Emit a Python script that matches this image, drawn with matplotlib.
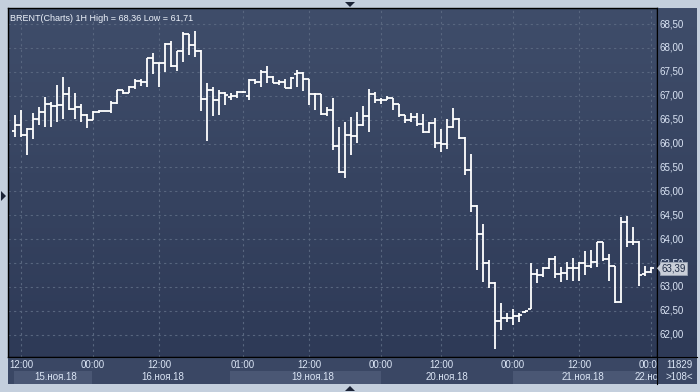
import numpy as np
import matplotlib
matplotlib.use("Agg")
import matplotlib.pyplot as plt
from matplotlib.patches import Rectangle, Polygon

# BRENT hourly bars, 15.11.18 12:00 .. 22.11.18 00:00
opens = [66.26, 66.39, 66.18, 66.30, 66.51, 66.65, 66.82, 66.78, 66.81, 67.04,
         66.72, 66.77, 66.60, 66.50, 66.65, 66.68, 66.68, 66.84, 67.12, 67.05,
         67.19, 67.31, 67.29, 67.78, 67.68, 67.68, 68.08, 67.62, 67.94, 68.30,
         68.07, 67.93, 66.93, 67.13, 66.90, 67.06, 66.97, 67.00, 67.08, 66.99,
         67.32, 67.29, 67.50, 67.40, 67.27, 67.29, 67.17, 67.45, 67.48, 67.35,
         67.04, 67.03, 66.62, 66.70, 65.95, 65.40, 66.18, 66.16, 66.39, 66.58,
         67.03, 66.90, 66.91, 66.95, 66.82, 66.60, 66.50, 66.55, 66.40, 66.25,
         66.42, 66.02, 66.00, 66.34, 66.51, 66.12, 65.45, 64.70, 64.11, 63.51,
         63.09, 62.29, 62.36, 62.35, 62.40, 62.47, 62.53, 63.26, 63.24, 63.40,
         63.58, 63.28, 63.30, 63.39, 63.39, 63.51, 63.44, 63.53, 63.93, 63.58,
         63.44, 62.69, 64.36, 63.95, 63.95, 63.27, 63.32]
highs = [66.60, 66.70, 66.33, 66.63, 66.77, 66.98, 66.87, 67.22, 67.39, 67.19,
         67.05, 66.82, 66.61, 66.68, 66.70, 66.69, 66.88, 67.12, 67.13, 67.20,
         67.34, 67.36, 67.78, 67.89, 67.68, 68.10, 68.14, 67.94, 68.33, 68.30,
         68.36, 67.96, 67.26, 67.19, 67.12, 67.08, 67.05, 67.09, 67.09, 67.34,
         67.35, 67.54, 67.62, 67.42, 67.33, 67.34, 67.40, 67.54, 67.49, 67.36,
         67.05, 67.04, 66.76, 66.95, 66.35, 66.46, 66.56, 66.65, 66.79, 67.15,
         67.08, 66.96, 66.99, 66.95, 66.82, 66.60, 66.63, 66.63, 66.61, 66.46,
         66.54, 66.30, 66.51, 66.74, 66.53, 66.14, 65.78, 64.72, 64.31, 63.56,
         63.11, 62.67, 62.46, 62.53, 62.46, 62.50, 63.49, 63.37, 63.42, 63.60,
         63.65, 63.42, 63.53, 63.60, 63.53, 63.75, 63.77, 63.93, 63.93, 63.69,
         63.44, 64.47, 64.49, 64.26, 63.97, 63.44, 63.42]
lows = [66.14, 66.13, 65.75, 66.09, 66.39, 66.35, 66.35, 66.46, 66.52, 66.70,
        66.51, 66.46, 66.33, 66.49, 66.63, 66.67, 66.63, 66.83, 67.03, 67.05,
        67.14, 67.20, 67.19, 67.45, 67.19, 67.50, 67.61, 67.52, 67.71, 67.85,
        67.82, 66.67, 66.05, 66.58, 66.60, 66.81, 66.91, 66.96, 67.05, 66.90,
        67.24, 67.18, 67.27, 67.26, 67.22, 67.16, 67.15, 67.19, 67.10, 66.81,
        66.70, 66.60, 66.58, 65.86, 65.38, 65.27, 65.76, 66.02, 66.36, 66.25,
        66.84, 66.83, 66.90, 66.70, 66.56, 66.42, 66.45, 66.37, 66.23, 66.23,
        65.90, 65.83, 65.88, 66.32, 66.09, 65.34, 64.57, 63.35, 63.11, 62.97,
        61.71, 62.10, 62.26, 62.20, 62.27, 62.46, 62.53, 63.09, 63.21, 63.38,
        63.18, 63.11, 63.14, 63.13, 63.13, 63.25, 63.39, 63.42, 63.55, 63.13,
        62.66, 62.66, 63.84, 63.88, 63.02, 63.23, 63.30]
closes = [66.39, 66.18, 66.30, 66.51, 66.65, 66.82, 66.78, 66.81, 67.04, 66.72,
          66.77, 66.60, 66.50, 66.65, 66.68, 66.68, 66.84, 67.12, 67.05, 67.19,
          67.31, 67.29, 67.78, 67.68, 67.68, 68.08, 67.62, 67.94, 68.30, 68.07,
          67.93, 66.93, 67.13, 66.90, 67.06, 67.02, 67.00, 67.08, 67.07, 67.32,
          67.29, 67.50, 67.40, 67.27, 67.29, 67.17, 67.38, 67.48, 67.35, 67.04,
          67.03, 66.62, 66.70, 65.95, 65.40, 66.18, 66.16, 66.39, 66.58, 67.03,
          66.90, 66.91, 66.95, 66.82, 66.60, 66.50, 66.55, 66.40, 66.25, 66.42,
          66.02, 66.00, 66.34, 66.51, 66.12, 65.45, 64.70, 64.11, 63.51, 63.09,
          62.29, 62.36, 62.35, 62.40, 62.42, 62.49, 63.26, 63.24, 63.40, 63.58,
          63.28, 63.30, 63.39, 63.39, 63.51, 63.44, 63.53, 63.93, 63.58, 63.44,
          62.68, 64.36, 63.95, 63.95, 63.25, 63.32, 63.39]

time_pos = [1, 13, 24, 38, 49, 61, 71, 83, 94, 106]
time_labels = ["12:00", "00:00", "12:00", "01:00", "12:00", "00:00", "12:00", "00:00", "12:00", "00:00"]
date_pos = [6.7, 24.7, 49.7, 72.0, 94.7]
date_labels = ["15.ноя.18", "16.ноя.18", "19.ноя.18", "20.ноя.18", "21.ноя.18"]
date_boxes = [(-0.2, 12.8), (35.8, 61.0), (83.0, 105.8)]
price_ticks = [62.0, 62.5, 63.0, 63.5, 64.0, 64.5, 65.0, 65.5, 66.0, 66.5, 67.0, 67.5, 68.0, 68.5]
last_price = 63.39
title = "BRENT(Charts) 1H High = 68,36 Low = 61,71"

W, H = 700, 392
XLIM = (-1.17, 107.0)
YLIM = (61.534, 68.835)
TXT = "#dbe5f5"
plt.rcParams["font.family"] = ["Liberation Sans", "DejaVu Sans"]

fig = plt.figure(figsize=(W / 100, H / 100), dpi=100, facecolor="#c4cfdd")


def px_axes(x0, y0, x1, y1):
    a = fig.add_axes([x0 / W, 1 - y1 / H, (x1 - x0) / W, (y1 - y0) / H])
    a.set_xticks([])
    a.set_yticks([])
    return a


def gradient(a, top, bottom):
    c = np.linspace(0, 1, 256)[:, None]
    top = np.array(matplotlib.colors.to_rgb(top))
    bottom = np.array(matplotlib.colors.to_rgb(bottom))
    img = top[None, None, :] * (1 - c[:, :, None]) + bottom[None, None, :] * c[:, :, None]
    a.imshow(img, extent=[0, 1, 0, 1], transform=a.transAxes, aspect="auto", zorder=0)


# main chart
ax = px_axes(8, 8, 657, 357)
gradient(ax, "#3f4d6a", "#2e3a57")
ax.set_xlim(*XLIM)
ax.set_ylim(*YLIM)
grid_kw = dict(colors="#58667f", linestyles=(0, (2, 3)), linewidth=0.8, zorder=1)
ax.hlines(price_ticks, XLIM[0], XLIM[1], **grid_kw)
ax.vlines(time_pos, YLIM[0], YLIM[1], **grid_kw)

x = np.arange(len(opens))
bar_kw = dict(colors="white", linewidth=1.3, zorder=3)
ax.vlines(x, lows, highs, **bar_kw)
ax.hlines(opens, x - 0.5, x, **bar_kw)
ax.hlines(closes, x, x + 0.5, **bar_kw)
for s in ax.spines.values():
    s.set_color("black")
    s.set_linewidth(1.0)
ax.text(0.003, 0.983, title, transform=ax.transAxes, ha="left", va="top",
        color="#eef3fb", fontsize=6.5, zorder=5)

# price scale
ax_p = px_axes(657, 8, 697, 357)
gradient(ax_p, "#3f4d6a", "#2e3a57")
ax_p.set_xlim(0, 1)
ax_p.set_ylim(*YLIM)
for p in price_ticks:
    ax_p.text(0.07, p, f"{p:.2f}".replace(".", ","), ha="left", va="center",
              color=TXT, fontsize=7)
ax_p.text(0.1, last_price, f"{last_price:.2f}".replace(".", ","), ha="left", va="center",
          color="#1e2a44", fontsize=7, zorder=5,
          bbox=dict(boxstyle="square,pad=0.15", fc="#c9ced8", ec="#9aa3b3", lw=0.6))
ax_p.add_patch(Polygon([[0.0, last_price], [0.1, last_price + 0.1], [0.1, last_price - 0.1]],
                       closed=True, fc="#c9ced8", ec="none", zorder=6))
for s in ax_p.spines.values():
    s.set_visible(False)
ax_p.spines["left"].set_visible(True)
ax_p.spines["left"].set_color("black")

# time scale
ax_t = px_axes(8, 357, 657, 384)
ax_t.set_facecolor("#3a4764")
ax_t.set_xlim(*XLIM)
ax_t.set_ylim(0, 1)
for a0, a1 in date_boxes:
    ax_t.add_patch(Rectangle((a0, 0), a1 - a0, 0.5, fc="#4a5774", ec="none"))
for p, lab in zip(time_pos, time_labels):
    ax_t.text(p, 0.7, lab, ha="center", va="center", color=TXT, fontsize=7, clip_on=True)
for p, lab in zip(date_pos, date_labels):
    ax_t.text(p, 0.25, lab, ha="center", va="center", color=TXT, fontsize=7, clip_on=True)
# the last date label is cut off by the price scale
ax_t.text(103.3, 0.25, "22.но", ha="left", va="center", color=TXT, fontsize=7, clip_on=True)
for s in ax_t.spines.values():
    s.set_visible(False)
ax_t.spines["top"].set_visible(True)
ax_t.spines["top"].set_color("black")

# corner box
ax_c = px_axes(657, 357, 697, 384)
ax_c.set_facecolor("#3a4764")
ax_c.text(0.55, 0.7, "11829", transform=ax_c.transAxes, ha="center", va="center", color=TXT, fontsize=7)
ax_c.text(0.55, 0.25, ">108<", transform=ax_c.transAxes, ha="center", va="center", color=TXT, fontsize=7)
for s in ax_c.spines.values():
    s.set_visible(False)
ax_c.spines["left"].set_visible(True)
ax_c.spines["left"].set_color("black")
ax_c.spines["top"].set_visible(True)
ax_c.spines["top"].set_color("black")

# little scroll arrows on the frame
arrow = "#1b2336"
for pts in ([[345, 2], [355, 2], [350, 7]],
            [[345, 391], [355, 391], [350, 386]],
            [[1, 191], [1, 201], [6, 196]]):
    fig.add_artist(Polygon([[px / W, 1 - py / H] for px, py in pts], closed=True,
                           fc=arrow, ec="none", transform=fig.transFigure))

fig.savefig("out.png", dpi=100, facecolor=fig.get_facecolor())
